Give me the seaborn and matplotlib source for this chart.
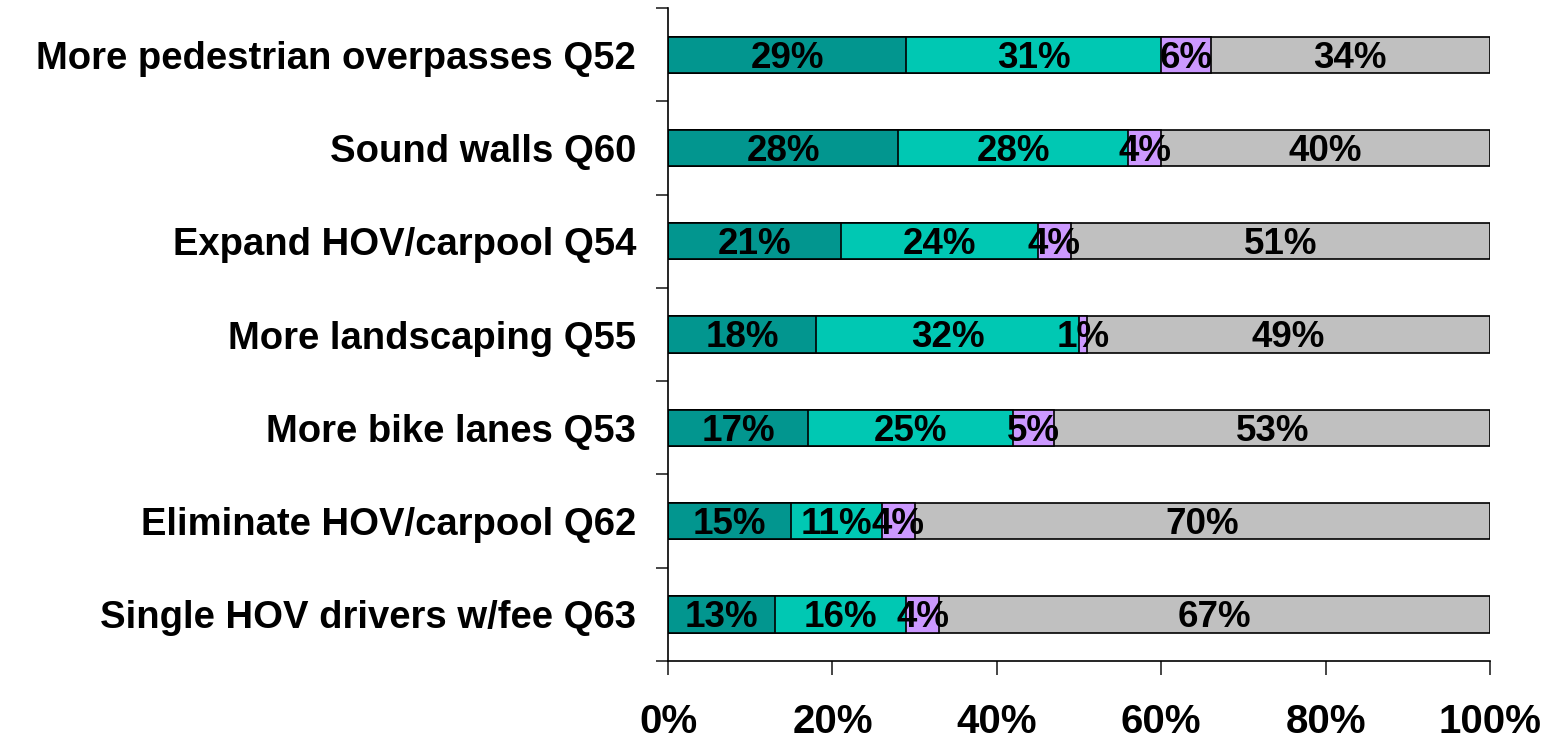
"""Stacked horizontal bar chart: support for freeway improvements."""

import matplotlib.pyplot as plt
import numpy as np
import pandas as pd
import seaborn as sns

categories = [
    "More pedestrian overpasses Q52",
    "Sound walls Q60",
    "Expand HOV/carpool Q54",
    "More landscaping Q55",
    "More bike lanes Q53",
    "Eliminate HOV/carpool Q62",
    "Single HOV drivers w/fee Q63",
]
strong = [29, 28, 21, 18, 17, 15, 13]
somewhat = [31, 28, 24, 32, 25, 11, 16]
neutral = [6, 4, 4, 1, 5, 4, 4]
other = [34, 40, 51, 49, 53, 70, 67]

series = [strong, somewhat, neutral, other]
colors = ["#02968F", "#00C8B3", "#CC99FF", "#C0C0C0"]

sns.set_style("white")
narrow = ["Liberation Sans Narrow", "Liberation Sans", "DejaVu Sans"]
wide = ["Liberation Sans", "DejaVu Sans"]
plt.rcParams["font.family"] = narrow

df = pd.DataFrame({"cat": categories})
cum = np.cumsum(np.array(series), axis=0)

fig, ax = plt.subplots(figsize=(15.58, 7.38), dpi=100)
fig.subplots_adjust(left=0.4288, right=0.9564, top=0.989, bottom=0.1043)

# draw cumulative totals from the right-most layer down so segments stack
for k in range(len(series) - 1, -1, -1):
    df["val"] = cum[k]
    sns.barplot(data=df, x="val", y="cat", orient="h", color=colors[k],
                width=0.39, edgecolor="black", linewidth=1.2, saturation=1, ax=ax)

for k, vals in enumerate(series):
    start = cum[k] - np.array(vals)
    for i, v in enumerate(vals):
        ax.text(start[i] + v / 2, i + 0.035, f"{v}%", ha="center", va="center",
                fontsize=26.5, fontweight="bold", color="black")

ax.set_xlim(0, 100)
ax.set_ylim(len(categories) - 0.5, -0.5)
ax.set_xlabel("")
ax.set_ylabel("")

ax.set_xticks(np.arange(0, 101, 20))
ax.set_xticklabels([f"{t}%" for t in range(0, 101, 20)])
ax.tick_params(axis="x", direction="out", length=10, width=1.2, pad=20,
               labelsize=29, bottom=True, labelcolor="black")
for lbl in ax.get_xticklabels():
    lbl.set_fontweight("bold")

ax.set_yticks(range(len(categories)))
ax.set_yticklabels(categories)
ax.set_yticks(np.arange(-0.5, len(categories)), minor=True)
ax.tick_params(axis="y", which="major", length=0, pad=23, labelsize=27.5,
               labelcolor="black")
ax.tick_params(axis="y", which="minor", direction="out", length=9, width=1.2, left=True)
for lbl in ax.get_yticklabels():
    lbl.set_fontweight("bold")
    lbl.set_family(wide)

for side in ["top", "right"]:
    ax.spines[side].set_visible(False)
for side in ["left", "bottom"]:
    ax.spines[side].set_color("black")
    ax.spines[side].set_linewidth(1.2)

fig.savefig("out.png", dpi=100)
